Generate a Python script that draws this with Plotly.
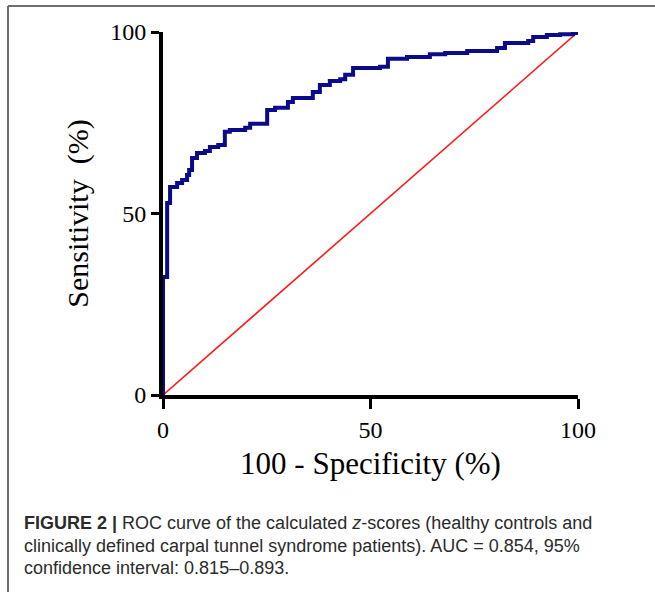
import plotly.graph_objects as go

# ROC curve points (100 - specificity %, sensitivity %), step-wise
fpr = [0, 0, 1.0, 1.0, 1.7, 3.4, 4.6, 5.8, 6.3, 7.0, 8.2, 10.1, 11.3, 13.3, 14.9, 16.1,
       19.8, 21.0, 25.1, 27.0, 30.1, 31.3, 36.1, 37.8, 40.2, 42.7, 43.9, 45.8, 52.3,
       54.2, 58.8, 64.3, 68.0, 73.3, 80.5, 82.4, 88.0, 89.2, 92.5, 95.7, 98.8, 99.8, 100]
tpr = [0, 32.5, 32.5, 52.9, 57.3, 58.4, 59.2, 60.6, 62.0, 65.3, 66.7, 67.2, 68.3, 68.9,
       72.5, 73.0, 73.6, 74.7, 78.5, 79.1, 80.7, 81.8, 83.5, 85.4, 86.5, 87.0, 88.2,
       90.1, 90.4, 92.6, 93.1, 93.9, 94.2, 94.8, 95.6, 97.0, 97.5, 98.6, 99.2, 99.4,
       99.7, 100, 100]
ref_x = [0, 100]
ref_y = [0, 100]
tick_vals = [0, 50, 100]
tick_text = ["0", "50", "100"]

W, H = 655, 592
X0, X1, Y0, Y1 = 163, 578, 32, 395  # plot area in window pixels
L, R, T, B = X0, W - X1, Y0, H - Y1
pw, ph = X1 - X0, Y1 - Y0

def px(x):
    return (x - X0) / pw

def py(y):
    return (Y1 - y) / ph

fig = go.Figure()
fig.add_trace(go.Scatter(x=ref_x, y=ref_y, mode="lines",
                         line=dict(color="#ff1a1a", width=1.6), cliponaxis=False,
                         hoverinfo="skip", showlegend=False))
fig.add_trace(go.Scatter(x=fpr, y=tpr, mode="lines", line_shape="hv",
                         line=dict(color="#0a0a8a", width=4), cliponaxis=False,
                         showlegend=False))

serif = "Liberation Serif, Times New Roman, serif"
fig.update_xaxes(range=[0, 100], tickvals=tick_vals, ticktext=tick_text,
                 showline=True, linecolor="black", linewidth=4, ticks="outside",
                 ticklen=10, tickwidth=3, tickcolor="black", showgrid=False,
                 zeroline=False, tickfont=dict(family=serif, size=24, color="black"),
                 title=dict(text="100 - Specificity (%)",
                            font=dict(family=serif, size=31, color="black"), standoff=12))
fig.update_yaxes(range=[0, 100], tickvals=tick_vals, ticktext=tick_text,
                 showline=True, linecolor="black", linewidth=4, ticks="outside",
                 ticklen=8, tickwidth=3, tickcolor="black", showgrid=False,
                 zeroline=False, tickfont=dict(family=serif, size=24, color="black"),
                 title=dict(text="Sensitivity  (%)",
                            font=dict(family=serif, size=30, color="black"), standoff=14))

frame_col = "#6e6e6e"
fig.add_shape(type="line", xref="paper", yref="paper", x0=px(8), x1=px(8),
              y0=py(600), y1=py(6), line=dict(color=frame_col, width=2))
fig.add_shape(type="line", xref="paper", yref="paper", x0=px(8), x1=px(660),
              y0=py(6), y1=py(6), line=dict(color=frame_col, width=2))

cap_font = dict(family="Liberation Sans Narrow, Liberation Sans, Arial Narrow, sans-serif",
                size=18, color="#2b2b2b")
lines = [
    "<b>FIGURE 2 |</b> ROC curve of the calculated <i>z</i>-scores (healthy controls and",
    "clinically defined carpal tunnel syndrome patients). AUC = 0.854, 95%",
    "confidence interval: 0.815\u20130.893.",
]
for txt, yy in zip(lines, [523, 546, 568]):
    fig.add_annotation(text=txt, xref="paper", yref="paper", x=px(22), y=py(yy),
                       xanchor="left", yanchor="middle", showarrow=False, font=cap_font)

fig.update_layout(width=W, height=H, margin=dict(l=L, r=R, t=T, b=B),
                  plot_bgcolor="white", paper_bgcolor="white")
fig.write_html("out.html", config={"displayModeBar": False},
               post_script="document.body.style.margin='0';document.body.style.overflow='hidden';")
